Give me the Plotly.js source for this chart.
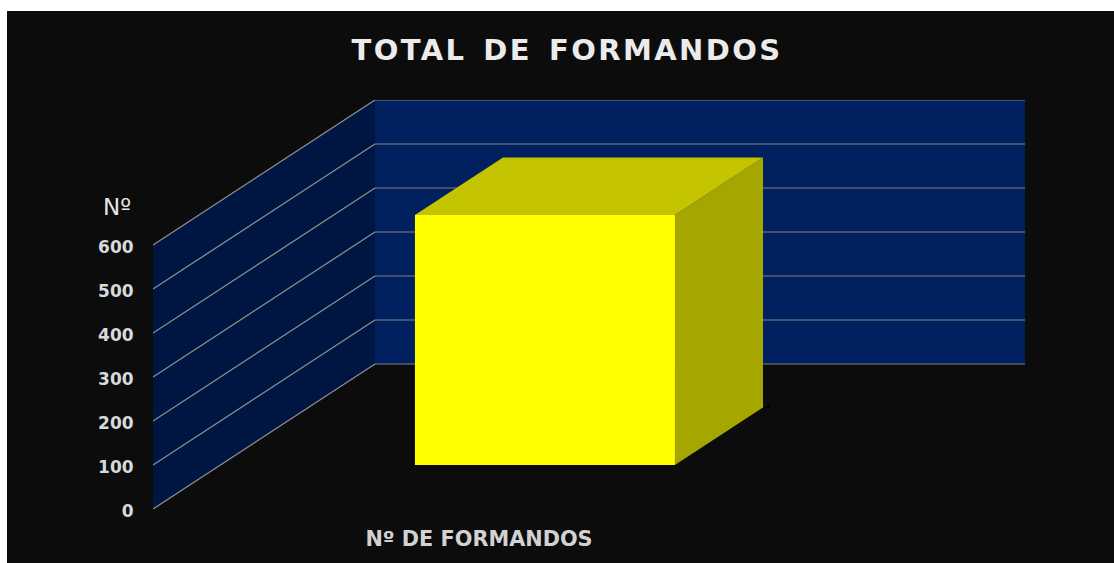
<!DOCTYPE html>
<html>
<head>
<meta charset="utf-8">
<script src="https://cdn.plot.ly/plotly-3.0.1.min.js"></script>
<style>
html,body{margin:0;padding:0;background:#fff;overflow:hidden}
#c{position:absolute;left:7px;top:11px;width:1107px;height:552px}
.gtitle{letter-spacing:2.4px}
</style>
</head>
<body>
<div id="c"></div>
<script>
// Data
const categories = ["Nº DE FORMANDOS"];
const values = [568];
const tickValues = [0,100,200,300,400,500,600];
const titleText = "TOTAL\u2002DE\u2002FORMANDOS";
const axisName = "Nº";

// Oblique projection settings (axis units)
const X_MAX = 872, Y_MAX = 929.5;
const DEPTH_X = 222, DEPTH_Y = 329.5, WALL_W = 650;
const BAR_LEFT = 194.6, BAR_W = 260, BAR_F0 = 0.3034, BAR_F1 = 0.70;
const LABEL_X = 326;

const P = (x, v, f) => [x + f*DEPTH_X, v + f*DEPTH_Y];
function poly(pts, color){
  const c = pts.concat([pts[0]]);
  return {x:c.map(p=>p[0]), y:c.map(p=>p[1]), type:'scatter', mode:'lines', fill:'toself',
    fillcolor:color, line:{width:0, color:color}, hoverinfo:'skip', showlegend:false};
}
function path(pts, color, w){
  return {x:pts.map(p=>p[0]), y:pts.map(p=>p[1]), type:'scatter', mode:'lines',
    line:{width:w, color:color}, hoverinfo:'skip', showlegend:false};
}
const wallTop = Y_MAX - DEPTH_Y;
const traces = [];
// walls
traces.push(poly([P(0,0,1),P(WALL_W,0,1),P(WALL_W,wallTop,1),P(0,wallTop,1)], '#002060'));
traces.push(poly([P(0,0,0),P(0,0,1),P(0,wallTop,1),P(0,wallTop,0)], '#001642'));
// gridlines, from the value ticks
tickValues.forEach(v=>{
  traces.push(path([P(0,v,0),P(0,v,1)], '#8c8c8c', 1.3));
  traces.push(path([P(0,v,1),P(WALL_W,v,1)], '#808080', 1));
});
// bar
const v = values[0], L = BAR_LEFT, R = BAR_LEFT + BAR_W, F0 = BAR_F0, F1 = BAR_F1;
const sh = 7;
traces.push(poly([[P(L,0,F0)[0]-12,P(L,0,F0)[1]],P(R,0,F0),[P(R,0,F1)[0]+sh,P(R,0,F1)[1]+8],[P(R,0,F1)[0]+sh,P(R,0,F1)[1]-2],P(R,0,F1),P(L,0,F0)], '#000000'));
traces.push(poly([P(R,0,F0),P(R,0,F1),P(R,v,F1),P(R,v,F0)], '#a6a600'));
traces.push(poly([P(L,v,F0),P(R,v,F0),P(R,v,F1),P(L,v,F1)], '#c4c400'));
traces.push(poly([P(L,0,F0),P(R,0,F0),P(R,v,F0),P(L,v,F0)], '#ffff00'));

const layout = {
  width:1107, height:552,
  paper_bgcolor:'#0c0c0c', plot_bgcolor:'rgba(0,0,0,0)',
  margin:{l:146, r:89, t:89, b:54, pad:0},
  showlegend:false,
  title:{text:titleText, x:0.4748, xref:'paper', xanchor:'center', y:0.93, yanchor:'middle',
    font:{family:'DejaVu Sans', size:29, weight:700, color:'#ebebeb'}},
  xaxis:{range:[0,X_MAX], showgrid:false, zeroline:false, showline:false,
    tickmode:'array', tickvals:[LABEL_X], ticktext:categories, ticks:'outside', ticklen:11,
    tickcolor:'rgba(0,0,0,0)', tickfont:{family:'DejaVu Sans', size:20.8, weight:700, color:'#d2d2d2'}},
  yaxis:{range:[0,Y_MAX], showgrid:false, zeroline:false, showline:false,
    tickmode:'array', tickvals:tickValues, ticktext:tickValues.map(String), ticks:'outside', ticklen:15,
    ticklabelshift:2,
    tickcolor:'rgba(0,0,0,0)', tickfont:{family:'DejaVu Sans', size:17, weight:700, color:'#d9d9d9'}},
  annotations:[{text:axisName, xref:'paper', yref:'paper', x:-36/X_MAX, y:686/Y_MAX, showarrow:false, xanchor:'center', yanchor:'middle',
    font:{family:'DejaVu Sans', size:23, color:'#e6e6e6'}}]
};
Plotly.newPlot('c', traces, layout, {displayModeBar:false, staticPlot:true});
</script>
</body>
</html>
